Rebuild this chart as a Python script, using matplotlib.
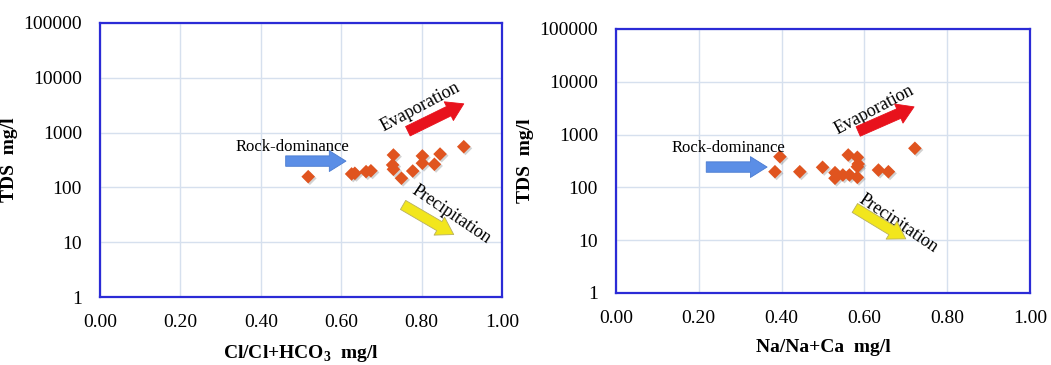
import matplotlib
matplotlib.use("Agg")
import matplotlib.pyplot as plt
import matplotlib.patheffects as pe

# ---- data ----
cl_ratio = [0.518, 0.626, 0.634, 0.662, 0.674, 0.730, 0.728, 0.730, 0.750,
            0.778, 0.802, 0.802, 0.832, 0.846, 0.905]
tds_left = [157, 176, 181, 194, 201, 390, 257, 214, 147,
            199, 375, 276, 264, 406, 553]

na_ratio = [0.384, 0.396, 0.444, 0.499, 0.529, 0.529, 0.548, 0.564, 0.583,
            0.561, 0.583, 0.585, 0.583, 0.634, 0.658, 0.722]
tds_right = [198, 381, 198, 240, 190, 149, 172, 172, 155,
             411, 371, 277, 246, 213, 198, 550]

xticks = [0.0, 0.2, 0.4, 0.6, 0.8, 1.0]
xticklabels = ["0.00", "0.20", "0.40", "0.60", "0.80", "1.00"]
yticks = [1, 10, 100, 1000, 10000, 100000]
yticklabels = ["1", "10", "100", "1000", "10000", "100000"]

FONT = "Liberation Serif"
plt.rcParams["font.family"] = [FONT, "DejaVu Serif"]
plt.rcParams["mathtext.fontset"] = "custom"
plt.rcParams["mathtext.rm"] = FONT
plt.rcParams["mathtext.bf"] = FONT + ":bold"

SPINE = "#2b2bd6"
GRID = "#d6e0ee"
MARK = "#e0541f"

fig = plt.figure(figsize=(10.51, 3.65), dpi=100)
axL = fig.add_axes([0.0951, 0.1863, 0.3825, 0.7507])
axR = fig.add_axes([0.5861, 0.1973, 0.3939, 0.7233])


def style(ax, xlabel):
    ax.set_xlim(0, 1)
    ax.set_yscale("log")
    ax.set_ylim(1, 100000)
    ax.set_xticks(xticks)
    ax.set_xticklabels(xticklabels, fontsize=14)
    ax.set_yticks(yticks)
    ax.set_yticklabels(yticklabels, fontsize=14)
    ax.minorticks_off()
    ax.tick_params(axis="x", length=0, pad=12)
    ax.tick_params(axis="y", length=0, pad=13)
    ax.grid(True, color=GRID, lw=1.0)
    ax.set_axisbelow(True)
    for s in ax.spines.values():
        s.set_color(SPINE)
        s.set_linewidth(1.6)
    ax.set_xlabel(xlabel, fontsize=14, fontweight="bold", labelpad=9)
    ax.set_ylabel("TDS  mg/l", fontsize=14, fontweight="bold", labelpad=4)


def scatter(ax, x, y):
    ax.scatter(x, y, marker="D", s=48, color=MARK, edgecolor="none", zorder=3,
               path_effects=[pe.SimplePatchShadow(offset=(1.2, -1.2), alpha=0.25,
                                                  shadow_rgbFace=(0.3, 0.3, 0.3)),
                             pe.Normal()])


def arrow(ax, start, end, color, edge=None, width=7.5, head_w=15, head_l=12):
    ax.annotate("", xy=end, xytext=start, xycoords="axes fraction",
                textcoords="axes fraction",
                arrowprops=dict(arrowstyle=f"simple,head_width={head_w/10:.2f},"
                                f"head_length={head_l/10:.2f},tail_width={width/10:.2f}",
                                mutation_scale=10, facecolor=color,
                                edgecolor=edge if edge else color, lw=0.6,
                                shrinkA=0, shrinkB=0), zorder=4)


style(axL, r"Cl/Cl+HCO$_\mathbf{3}$  mg/l")
style(axR, "Na/Na+Ca  mg/l")
scatter(axL, cl_ratio, tds_left)
scatter(axR, na_ratio, tds_right)

# left annotations
axL.text(0.336, 0.548, "Rock-dominance", transform=axL.transAxes, fontsize=12,
         ha="left", va="center")
arrow(axL, (0.462, 0.496), (0.612, 0.496), "#5b8ee6", edge="#4a7bd0")
axL.text(0.797, 0.695, "Evaporation", transform=axL.transAxes, fontsize=13,
         ha="center", va="center", rotation=28)
arrow(axL, (0.766, 0.605), (0.905, 0.705), "#e8121c")
axL.text(0.873, 0.300, "Precipitation", transform=axL.transAxes, fontsize=13,
         ha="center", va="center", rotation=-34)
arrow(axL, (0.754, 0.336), (0.880, 0.228), "#f2e61c", edge="#b8b060")

# right annotations
axR.text(0.135, 0.548, "Rock-dominance", transform=axR.transAxes, fontsize=12,
         ha="left", va="center")
arrow(axR, (0.218, 0.477), (0.365, 0.477), "#5b8ee6", edge="#4a7bd0")
axR.text(0.623, 0.695, "Evaporation", transform=axR.transAxes, fontsize=13,
         ha="center", va="center", rotation=28)
arrow(axR, (0.585, 0.612), (0.720, 0.705), "#e8121c")
axR.text(0.683, 0.262, "Precipitation", transform=axR.transAxes, fontsize=13,
         ha="center", va="center", rotation=-34)
arrow(axR, (0.577, 0.322), (0.700, 0.205), "#f2e61c", edge="#b8b060")

fig.savefig("out.png", dpi=100)
